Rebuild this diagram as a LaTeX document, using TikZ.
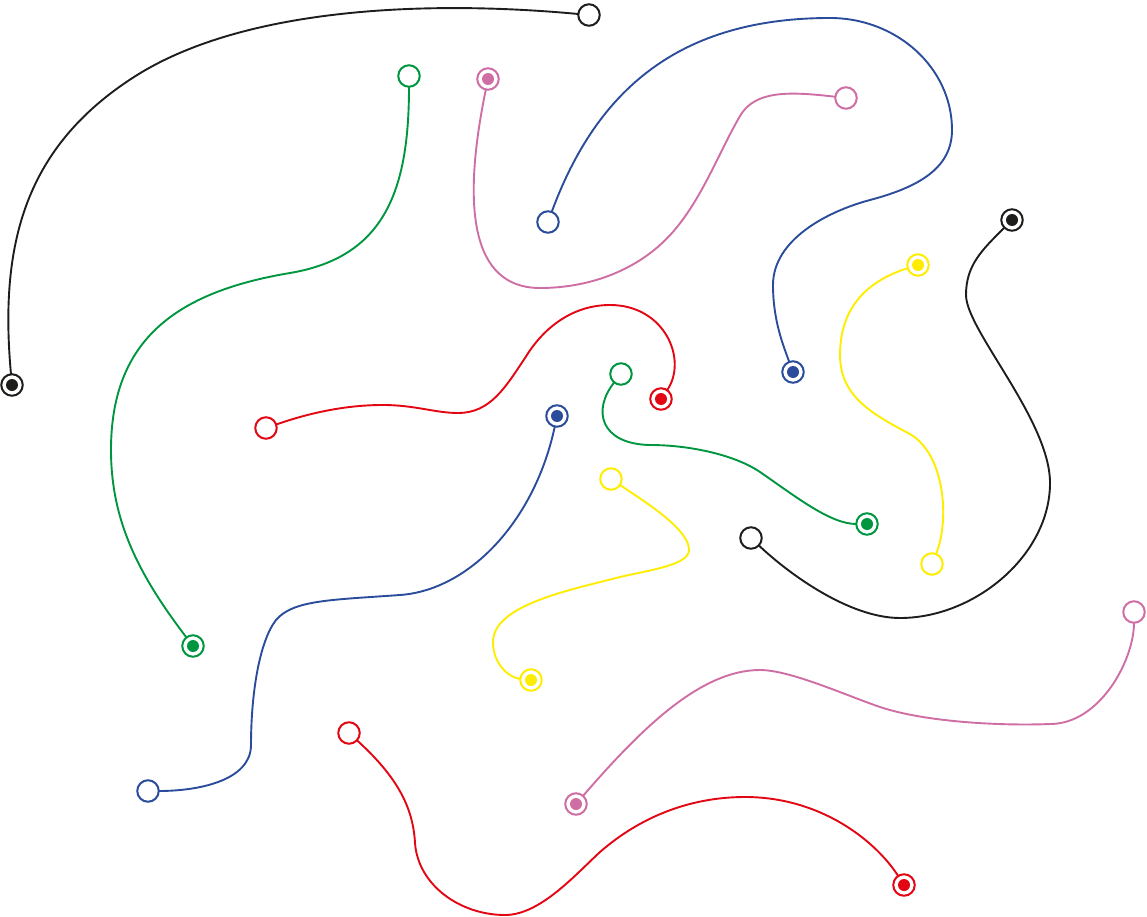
\documentclass[tikz,border=0pt]{standalone}
\definecolor{cblack}{HTML}{1D1D1B}
\definecolor{cgreen}{HTML}{009640}
\definecolor{cpink}{HTML}{CF6EA4}
\definecolor{cblue}{HTML}{2B4C9B}
\definecolor{cred}{HTML}{E30613}
\definecolor{cyellow}{HTML}{FFED00}
\tikzset{
  hole/.style={circle, draw=#1, line width=2pt, minimum size=21.5pt, inner sep=0pt, outer sep=0pt},
  pin/.style={hole=#1, path picture={\fill[#1] (path picture bounding box.center) circle (6pt);}},
  wire/.style={draw=#1, line width=1.9pt, line cap=round}
}
\begin{document}
\begin{tikzpicture}[x=1pt,y=-1pt]
\useasboundingbox (0,0) rectangle (1147,917);
% endpoints
\node[hole=cblack] (k1) at (589,15) {};
\node[pin=cblack] (kd1) at (12,385) {};
\node[hole=cgreen] (g1) at (409,76) {};
\node[pin=cgreen] (gd1) at (193,646) {};
\node[pin=cpink] (pd1) at (488,79) {};
\node[hole=cpink] (p1) at (846,98) {};
\node[hole=cblue] (b1) at (548,222) {};
\node[pin=cblue] (bd1) at (793,372) {};
\node[pin=cblack] (kd2) at (1012,220) {};
\node[hole=cblack] (k2) at (751,538) {};
\node[pin=cyellow] (yd1) at (918,265) {};
\node[hole=cyellow] (y1) at (932,564) {};
\node[hole=cred] (r1) at (266,428) {};
\node[pin=cred] (rd1) at (661,399) {};
\node[hole=cgreen] (g2) at (621,374) {};
\node[pin=cgreen] (gd2) at (867,524) {};
\node[pin=cblue] (bd2) at (557,416) {};
\node[hole=cblue] (b2) at (148,791) {};
\node[hole=cyellow] (y2) at (611,479) {};
\node[pin=cyellow] (yd2) at (531,680) {};
\node[hole=cred] (r2) at (349,733) {};
\node[pin=cred] (rd2) at (904,885) {};
\node[pin=cpink] (pd2) at (576,804) {};
\node[hole=cpink] (p2) at (1134,612) {};
% connectors
\draw[wire=cblack] (k1) .. controls (428,0) and (243,7) .. (134,77)
  .. controls (25,147) and (-1,244) .. (kd1);
\draw[wire=cgreen] (g1) .. controls (409,190) and (385,257) .. (290,273)
  .. controls (176,292) and (111,340) .. (111,450)
  .. controls (111,520) and (138,574) .. (gd1);
\draw[wire=cpink] (pd1) .. controls (462,205) and (470,288) .. (540,288)
  .. controls (590,288) and (639,270) .. (672,233)
  .. controls (702,199) and (718,154) .. (740,116)
  .. controls (755,90) and (790,91.5) .. (p1);
\draw[wire=cblue] (b1) .. controls (597,89) and (680,18) .. (830,18)
  .. controls (897,18) and (952,68) .. (952,130)
  .. controls (952,170) and (915,188) .. (870,200)
  .. controls (826.5,211.6) and (773,240) .. (773,285)
  .. controls (773,320) and (783,345) .. (bd1);
\draw[wire=cblack] (kd2) .. controls (982,250) and (966,265) .. (966,295)
  .. controls (966,330) and (1050,420) .. (1050,483)
  .. controls (1050,555) and (975,618) .. (900,618)
  .. controls (850,618) and (790,575) .. (k2);
\draw[wire=cyellow] (yd1) .. controls (870,280) and (840,305) .. (840,355)
  .. controls (840,395) and (870,413) .. (908,433)
  .. controls (945,452) and (950,520) .. (y1);
\draw[wire=cred] (r1) .. controls (315,411) and (350,405) .. (383,405)
  .. controls (415,405) and (435,413) .. (458,413)
  .. controls (490,413) and (505,388) .. (525,358)
  .. controls (545,325) and (575,305) .. (610,305)
  .. controls (665,305) and (688,360) .. (rd1);
\draw[wire=cgreen] (g2) .. controls (592,410) and (600,444) .. (650,445)
  .. controls (690,445) and (735,455) .. (760,472)
  .. controls (795,496) and (830,524) .. (gd2);
\draw[wire=cblue] (bd2) .. controls (535,520) and (470,590) .. (400,595)
  .. controls (330,600) and (293,600) .. (276,620)
  .. controls (259,642) and (251,695) .. (251,745)
  .. controls (251,780) and (200,791) .. (b2);
\draw[wire=cyellow] (y2) .. controls (650,505) and (689,530) .. (689,550)
  .. controls (689,565) and (650,570) .. (620,577)
  .. controls (570,590) and (493,605) .. (493,642)
  .. controls (493,665) and (510,678) .. (yd2);
\draw[wire=cred] (r2) .. controls (395,775) and (413,805) .. (415,843)
  .. controls (418,885) and (460,915) .. (505,915)
  .. controls (540,915) and (575,875) .. (600,852)
  .. controls (640,817) and (690,797) .. (745,797)
  .. controls (820,797) and (875,840) .. (rd2);
\draw[wire=cpink] (pd2) .. controls (640,730) and (700,670) .. (760,670)
  .. controls (790,670) and (845,695) .. (880,707)
  .. controls (925,722) and (1000,726) .. (1050,724)
  .. controls (1100,724) and (1134,660) .. (p2);
\end{tikzpicture}
\end{document}
